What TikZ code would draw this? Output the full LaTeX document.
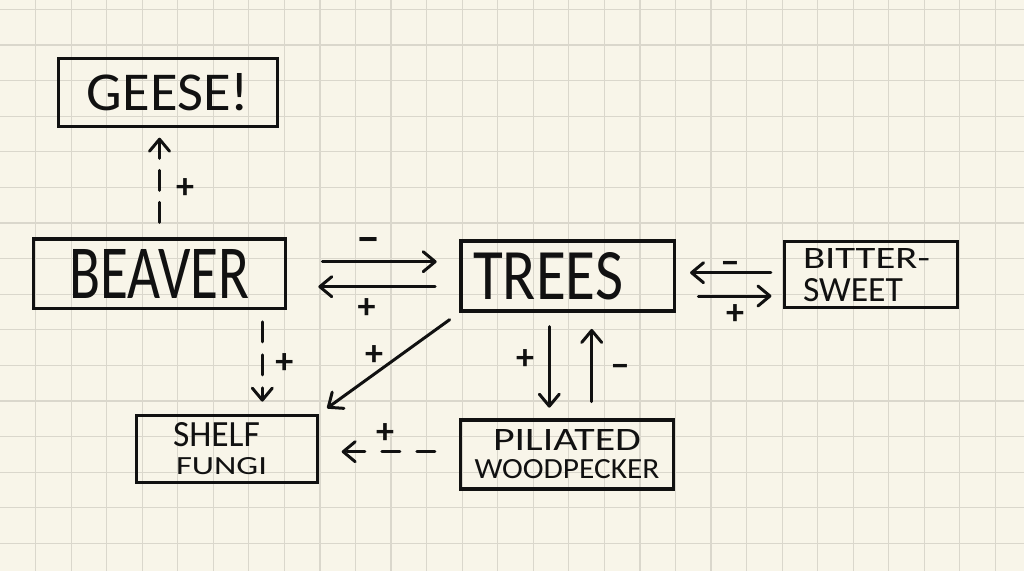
\documentclass[tikz,border=0pt]{standalone}
\usepackage{fontspec}
\setmainfont{Carlito}
\usetikzlibrary{arrows.meta}
\definecolor{paper}{RGB}{248,245,233}
\definecolor{gridc}{RGB}{218,215,204}
\definecolor{ink}{RGB}{17,17,17}
\newcommand\hw[3]{\resizebox{#1pt}{#2pt}{#3}}
\tikzset{
  box/.style={draw=ink, line width=3.3pt, inner sep=0pt, text=ink},
  arr/.style={draw=ink, line width=3pt, line cap=round,
    -{Straight Barb[length=12pt,width=20pt,round]}},
  dsh/.style={arr},
  gridline/.style={draw=gridc, line width=1.2pt},
  sign/.style={text=ink, font=\fontsize{36}{36}\selectfont\bfseries, inner sep=0pt, yshift=-2pt},
  minus/.style={sign, yshift=-6pt},
}
\begin{document}
\begin{tikzpicture}[x=1pt,y=-1pt]
\useasboundingbox (0,0) rectangle (1024,571);
\fill[paper] (0,0) rectangle (1024,571);
\foreach \k in {1,...,28} \draw[gridline] (\k*35.55,0) -- (\k*35.55,571);
\foreach \k in {0,...,15} \draw[gridline] (0,9.3+\k*35.6) -- (1024,9.3+\k*35.6);

% boxes
\node[box, minimum width=218.7pt, minimum height=67.7pt] (geese) at (168,92.5) {\hw{162}{37}{GEESE!}};
\node[box, minimum width=252.3pt, minimum height=69.4pt] (beaver) at (159.5,273.7) {\hw{180}{49}{BEAVER}};
\node[box, minimum width=213.4pt, minimum height=70pt] (trees) at (567.7,276) {\hw{150}{47}{TREES}\hspace*{39pt}};
\node[box, minimum width=172.4pt, minimum height=66pt, align=left, font=\fontsize{20}{33}\selectfont] (bitter) at (871,274.7)
  {\hw{127}{20}{BITTER-}\hspace*{9pt}\\\hw{100}{23}{SWEET}};
\node[box, minimum width=180.7pt, minimum height=66.7pt, align=left, font=\fontsize{20}{28}\selectfont] (shelf) at (227,449)
  {\hw{87}{24}{SHELF}\\\hspace*{3pt}\hw{91}{17}{FUNGI}\hspace*{14pt}};
\node[box, minimum width=212.4pt, minimum height=69pt, align=center, font=\fontsize{20}{28}\selectfont] (pil) at (567,454.5)
  {\hw{148}{21}{PILIATED}\\\hw{185}{19}{WOODPECKER}};

% helper coordinates
\coordinate (bt1) at ([yshift=12pt]beaver.east);
\coordinate (bt2) at ([yshift=-13pt]beaver.east);
\coordinate (tb1) at ([yshift=2pt]bitter.west);
\coordinate (tb2) at ([yshift=-21.3pt]bitter.west);
\coordinate (tp1) at ([xshift=-18.4pt]trees.south);
\coordinate (tp2) at ([xshift=24.7pt]pil.north);
\coordinate (bs) at ([xshift=102.8pt]beaver.south);
\coordinate (ps) at ([yshift=2.8pt]pil.west);

% connectors
\draw[dsh, dash pattern=on 20pt off 12pt, shorten <=15pt, shorten >=9.7pt] (beaver.north) -- (beaver.north |- geese.south);
\draw[arr, shorten <=35pt, shorten >=22.7pt] (bt1) -- (bt1 -| trees.west);
\draw[arr, shorten <=24.3pt, shorten >=31pt] (bt2 -| trees.west) -- (bt2);
\draw[arr, shorten <=12.3pt, shorten >=14pt] (tb1) -- (tb1 -| trees.east);
\draw[arr, shorten <=22.4pt, shorten >=11.7pt] (tb2 -| trees.east) -- (tb2);
\draw[arr, shorten <=14pt, shorten >=10.7pt] (tp1) -- (tp1 |- pil.north);
\draw[arr, shorten <=16.7pt, shorten >=16.3pt] (tp2) -- (tp2 |- trees.south);
\draw[dsh, dash pattern=on 20pt off 13pt, shorten <=11.7pt, shorten >=12.4pt] (bs) -- (bs |- shelf.north);
\draw[arr, shorten <=12pt, shorten >=10pt] (trees.south west) -- (shelf.north east);
\draw[dsh, dash pattern=on 18pt off 17pt, shorten <=24.3pt, shorten >=22.7pt] (ps) -- (ps -| shelf.east);

% signs
\node[sign] (s1) at (185,187) {+};
\node[minus] (s2) at (368,237.3) {\resizebox{22pt}{!}{−}};
\node[sign] (s3) at (366.7,306.7) {+};
\node[minus] (s4) at (730,260) {−};
\node[sign] (s5) at (735,312.7) {+};
\node[sign] (s6) at (525,358) {+};
\node[minus] (s7) at (620,362.7) {−};
\node[sign] (s8) at (284.3,361.7) {+};
\node[sign] (s9) at (374,353.3) {+};
\node[sign] (s10) at (385,431.7) {+};
\end{tikzpicture}
\end{document}
